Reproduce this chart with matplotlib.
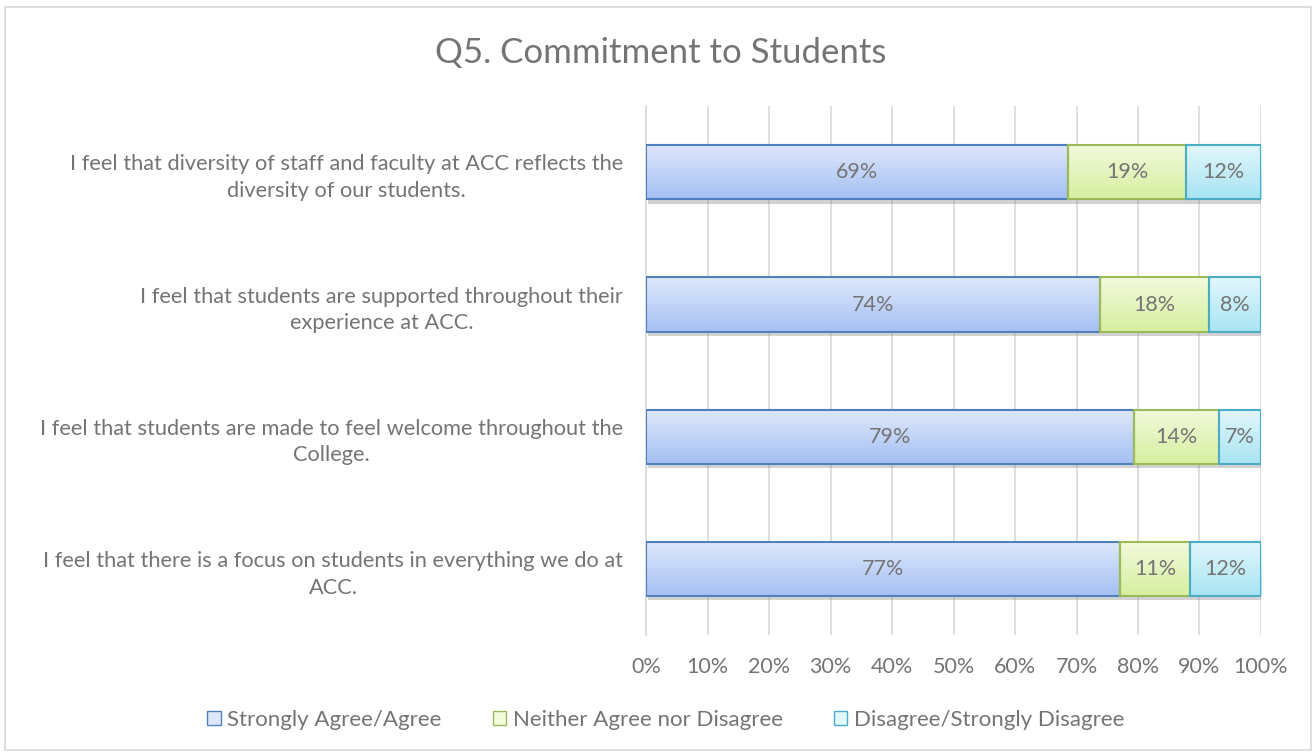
import numpy as np
import matplotlib
matplotlib.use("Agg")
import matplotlib.pyplot as plt
from matplotlib import patheffects as pe
from matplotlib.colors import LinearSegmentedColormap
from matplotlib.patches import Rectangle

plt.rcParams['font.family'] = ['Lato', 'DejaVu Sans']

questions = [
    "I feel that diversity of staff and faculty at ACC reflects the\ndiversity of our students.",
    "I feel that students are supported throughout their\nexperience at ACC.",
    "I feel that students are made to feel welcome throughout the\nCollege.",
    "I feel that there is a focus on students in everything we do at\nACC.",
]
series = ["Strongly Agree/Agree", "Neither Agree nor Disagree", "Disagree/Strongly Disagree"]
agree = [68.6, 73.8, 79.4, 77.1]
neither = [19.2, 17.8, 13.8, 11.3]
disagree = [12.2, 8.4, 6.8, 11.6]
xticks = [0, 10, 20, 30, 40, 50, 60, 70, 80, 90, 100]

edge_cols = ['#4f81bd', '#9bbb59', '#4bacc6']
grad_cols = [('#dfe8fb', '#a4c0f3'), ('#f2fadc', '#d6efa0'), ('#e2f7fc', '#a8e4f2')]
txt = '#747474'

fig = plt.figure(figsize=(13.16, 7.54), dpi=100)
ax = fig.add_axes([0.4909, 0.158, 0.4673, 0.701])

# rahmen oko cijelog grafikona
fig.patches.append(Rectangle((0.004, 0.005), 0.992, 0.986, transform=fig.transFigure,
                             fill=False, edgecolor='#d9d9d9', linewidth=1.2))

y = np.arange(len(questions))[::-1]
h = 0.41
left = np.zeros(len(questions))
for vals, ec, (c1, c2), name in zip([agree, neither, disagree], edge_cols, grad_cols, series):
    vals = np.array(vals)
    bars = ax.barh(y, vals, left=left, height=h, color=c2, edgecolor='none', zorder=2,
                   path_effects=[pe.SimplePatchShadow(offset=(1.5, -3), shadow_rgbFace='#7f7f7f', alpha=0.35),
                                 pe.Normal()])
    cmap = LinearSegmentedColormap.from_list('g', [c2, c1])
    for b in bars:
        x0, y0, w, hh = b.get_x(), b.get_y(), b.get_width(), b.get_height()
        im = ax.imshow(np.linspace(0, 1, 64).reshape(-1, 1), cmap=cmap, origin='lower',
                       extent=[x0, x0 + w, y0, y0 + hh], aspect='auto', zorder=2.5)
        im.set_clip_path(b)
    ax.barh(y, vals, left=left, height=h, fill=False, edgecolor=ec, linewidth=1.5, zorder=3)
    for yi, l, v in zip(y, left, vals):
        ax.text(l + v / 2, yi, f"{v:.0f}%", ha='center', va='center', fontsize=15.5, color=txt, zorder=4)
    ax.bar(0, 0, color=c1, edgecolor=ec, label=name)
    left += vals

ax.set_xlim(0, 100)
ax.set_ylim(-0.5, len(questions) - 0.5)
ax.set_xticks(xticks)
ax.set_xticklabels([f"{t}%" for t in xticks], fontsize=15.5, color=txt)
ax.set_yticks(y)
ax.set_yticklabels(questions, fontsize=15.7, color=txt, multialignment='center', linespacing=1.42)
ax.tick_params(length=0)
ax.tick_params(axis='x', pad=16)
ax.tick_params(axis='y', pad=16.5)
ax.grid(axis='x', color='#d9d9d9', linewidth=1.2, zorder=0)
ax.set_axisbelow(True)
for s in ['top', 'right', 'bottom']:
    ax.spines[s].set_visible(False)
ax.spines['left'].set_color('#d9d9d9')
ax.spines['left'].set_linewidth(1.2)

fig.text(0.502, 0.9164, "Q5. Commitment to Students", ha='center', va='baseline', fontsize=25, color=txt)

fig.legend(loc='center', bbox_to_anchor=(0.506, 0.045), ncol=3, frameon=False, fontsize=16,
           labelcolor=txt, handlelength=0.6, handleheight=0.6, handletextpad=0.3, columnspacing=2.3)

fig.savefig("out.png", dpi=100)
